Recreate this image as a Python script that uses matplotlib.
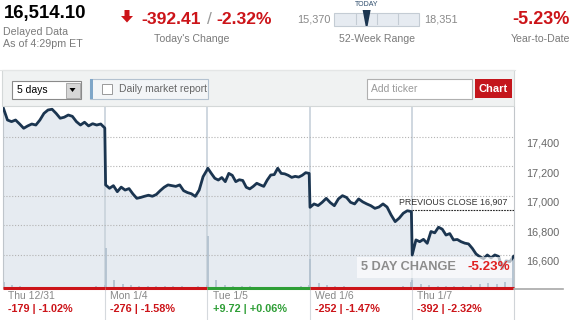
import matplotlib
matplotlib.use('Agg')
import matplotlib.pyplot as plt
import matplotlib.transforms as mtransforms
from matplotlib.patches import Rectangle, Polygon
import numpy as np

plt.rcParams['font.family'] = ['Liberation Sans', 'DejaVu Sans']

# ---------------- data ----------------
day_labels = ['Thu 12/31', 'Mon 1/4', 'Tue 1/5', 'Wed 1/6', 'Thu 1/7']
day_change = ['-179', '-276', '+9.72', '-252', '-392']
day_pct = ['-1.02%', '-1.58%', '+0.06%', '-1.47%', '-2.32%']
day_up = [False, False, True, False, False]

prices_d1 = [17595, 17515, 17504, 17515, 17488, 17459, 17475, 17488, 17481, 17515,
             17560, 17583, 17588, 17560, 17527, 17534, 17549, 17540, 17504, 17481,
             17500, 17475, 17490, 17481, 17488, 17461]
prices_d2 = [17075, 17052, 17070, 17029, 17060, 17040, 17050, 17014, 16984, 16990,
             16998, 17005, 16998, 17010, 17036, 17059, 17075, 17070, 17065, 17075,
             17036, 17023, 17015, 16997, 17040, 17131, 17176]
prices_d3 = [17188, 17153, 17120, 17108, 17125, 17097, 17153, 17140, 17097, 17110,
             17105, 17059, 17048, 17065, 17086, 17075, 17065, 17108, 17142, 17145,
             17188, 17153, 17150, 17140, 17126, 17133, 17128, 17140, 17158, 17153]
prices_d4 = [16923, 16946, 16935, 16957, 16984, 16955, 16934, 16980, 17002, 16990,
             16957, 16946, 16980, 16960, 16946, 16934, 16916, 16925, 16946, 16925,
             16871, 16826, 16850, 16883, 16900, 16894]
prices_d5 = [16600, 16702, 16690, 16706, 16679, 16759, 16750, 16788, 16775, 16735,
             16745, 16702, 16705, 16690, 16680, 16675, 16645, 16607, 16588, 16575,
             16600, 16580, 16600, 16590, 16509, 16560, 16555, 16590]
prices = [prices_d1, prices_d2, prices_d3, prices_d4, prices_d5]

volume_d1 = [6, 3, 2, 1, 1, 1, 1, 1, 1, 1, 1, 2, 3]
volume_d2 = [40, 8, 4, 3, 2, 2, 2, 2, 2, 2, 1, 2, 3]
volume_d3 = [52, 8, 3, 2, 2, 2, 1, 1, 1, 1, 1, 2, 3]
volume_d4 = [29, 5, 3, 2, 2, 1, 1, 1, 1, 1, 1, 2, 6]
volume_d5 = [8, 4, 3, 2, 2, 2, 2, 3, 4, 5, 4, 6, 30]
volumes = [volume_d1, volume_d2, volume_d3, volume_d4, volume_d5]
volume_axis_max = 182

prev_close = 16907
y_ticks = [16600, 16800, 17000, 17200, 17400]
y_tick_labels = ['16,600', '16,800', '17,000', '17,200', '17,400']
y_range = (16376, 17610)

last_price = 16514.10
today_change = '-392.41'
today_pct = '-2.32%'
week52_low = 15370
week52_high = 18351
ytd = '-5.23%'
five_day = '-5.23%'

RED = '#cc1419'
GREEN = '#2e9e36'
GRAY = '#7a7a7a'

# ---------------- figure ----------------
fig = plt.figure(figsize=(5.75, 3.2), dpi=100)
fig.patch.set_facecolor('white')

ax = fig.add_axes([3 / 575, 32 / 320, 511 / 575, 182 / 320], zorder=5)
ov = fig.add_axes([0, 0, 1, 1], zorder=10)
ov.set_xlim(0, 575)
ov.set_ylim(320, 0)
ov.axis('off')

# price line
X, Y = [], []
for d, p in enumerate(prices):
    n = len(p)
    xs = d + 0.004 + np.arange(n) / (n - 1) * 0.992
    X.extend(xs)
    Y.extend(p)
X = np.array(X)
Y = np.array(Y)

ax.fill_between(X, Y, y_range[0], color='#e6ebf1', lw=0, zorder=1)
for t in y_ticks:
    ax.axhline(t, color='#b3b3b3', lw=0.8, ls=(0, (1, 1.6)), zorder=2)
for d in range(1, 5):
    ax.axvline(d, color='#cbd4dd', lw=1.3, zorder=1.6)

xt = ax.get_xaxis_transform()
for d, v in enumerate(volumes):
    n = len(v)
    vx = d + 0.005 + np.arange(n) / (n - 1) * 0.99
    ax.vlines(vx, 0, np.array(v) / volume_axis_max, transform=xt,
              color='#b3c1cf', lw=1.3, zorder=2.2)

ax.plot(X, Y, color='#1b3550', lw=2.0, zorder=4, solid_joinstyle='round')

ax.set_xlim(0, 5)
ax.set_ylim(*y_range)
ax.set_xticks([])
ax.yaxis.tick_right()
ax.set_yticks(y_ticks, y_tick_labels)
ax.tick_params(axis='y', length=0, pad=9, labelsize=7.8, labelcolor='#666666')
off = mtransforms.ScaledTranslation(0, -6 / 100, fig.dpi_scale_trans)
for lbl in ax.get_yticklabels():
    lbl.set_transform(lbl.get_transform() + off)
for s in ['top', 'bottom']:
    ax.spines[s].set_visible(False)
ax.spines['left'].set_color('#bfc5cb')
ax.spines['right'].set_color('#c2c6ca')

# day colour bars and labels
for d in range(5):
    c = GREEN if day_up[d] else RED
    ax.plot([d, d + 1], [0, 0], transform=xt, color=c, lw=2.2, clip_on=False,
            zorder=6, solid_capstyle='butt')
    ax.text(d + 0.05, -0.045, day_labels[d], transform=xt, ha='left', va='center',
            fontsize=7.5, color='#888888')
    ax.text(d + 0.05, -0.118, f'{day_change[d]} | {day_pct[d]}', transform=xt,
            ha='left', va='center', fontsize=7.8, fontweight='bold', color=c)
    if d > 0:
        ax.plot([d, d], [-0.01, -0.175], transform=xt, color='#d5d9dd', lw=0.8,
                clip_on=False)

# previous close
ax.plot([4, 5], [prev_close, prev_close], color='#222222', lw=0.8,
        ls=(0, (1.5, 1)), zorder=5)
ax.text(4.94, prev_close + 22, f'PREVIOUS CLOSE {prev_close:,}', ha='right',
        va='bottom', fontsize=6.4, color='#333333', zorder=5)

# ---------------- overlay (header / toolbar) ----------------
ov.plot([0, 515], [69.5, 69.5], color='#e4e6e6', lw=0.8)
ov.add_patch(Rectangle((2, 70), 512, 36, fc='#f0f2f2', ec='#d4d8d8', lw=0.8))
ov.plot([514, 514], [288, 320], color='#d0d4d8', lw=0.8)
ov.plot([514, 563], [288.5, 288.5], color='#a8a8a8', lw=1.2)

# header
ov.text(4, 13.5, f'{last_price:,.2f}', ha='left', va='center', fontsize=13.4,
        fontweight='bold', color='black')
ov.text(3, 32, 'Delayed Data', ha='left', va='center', fontsize=7.7, color=GRAY)
ov.text(3, 44, 'As of 4:29pm ET', ha='left', va='center', fontsize=7.7, color=GRAY)
ov.add_patch(Polygon([(124.5, 10), (129.5, 10), (129.5, 16), (133, 16), (127, 22.5),
                      (121, 16), (124.5, 16)], closed=True, fc=RED, ec='none'))
ov.text(141, 19.5, today_change, ha='left', va='center', fontsize=12.6,
        fontweight='bold', color=RED)
ov.text(209, 19.5, '/', ha='center', va='center', fontsize=12.6, color='#9a9a9a')
ov.text(272, 19.5, today_pct, ha='right', va='center', fontsize=12.6,
        fontweight='bold', color=RED)
ov.text(192, 39, "Today's Change", ha='center', va='center', fontsize=7.6, color=GRAY)

bx0, bx1 = 334, 419
ov.add_patch(Rectangle((bx0, 12.5), bx1 - bx0, 13, fc='#e6ebf1', ec='#c4ccd4', lw=0.8))
for k in range(1, 4):
    xx = bx0 + (bx1 - bx0) * k / 4 + 0.5
    ov.plot([xx, xx], [14, 24], color='#c4ccd4', lw=0.8)
mx = bx0 + (bx1 - bx0) * (last_price - week52_low) / (week52_high - week52_low)
ov.add_patch(Polygon([(mx - 4, 10), (mx + 4, 10), (mx + 1, 26), (mx - 1, 26)],
                     closed=True, fc='#1b3550', ec='none'))
ov.text(mx, 4.5, 'TODAY', ha='center', va='center', fontsize=5, color='#2b4a6a')
ov.text(331, 19.5, f'{week52_low:,}', ha='right', va='center', fontsize=7.8, color='#888888')
ov.text(424, 19.5, f'{week52_high:,}', ha='left', va='center', fontsize=7.8, color='#888888')
ov.text(377, 38.5, '52-Week Range', ha='center', va='center', fontsize=7.6, color=GRAY)

ov.text(570, 19, ytd, ha='right', va='center', fontsize=13, fontweight='bold', color=RED)
ov.text(570, 39, 'Year-to-Date', ha='right', va='center', fontsize=7.6, color=GRAY)

# toolbar controls
ov.add_patch(Rectangle((12, 81), 69, 18, fc='white', ec='#8a8a8a', lw=0.8))
ov.add_patch(Rectangle((65.5, 82.5), 14, 15, fc='#d6d6d6', ec='#a0a0a0', lw=0.6))
ov.add_patch(Polygon([(69.5, 88), (75.5, 88), (72.5, 92)], closed=True, fc='black'))
ov.text(17, 90, '5 days', ha='left', va='center', fontsize=7.5, color='black')

ov.add_patch(Rectangle((90, 79), 118, 20, fc='#f3f5f7', ec='#b4c2d0', lw=0.8))
ov.add_patch(Rectangle((90, 79), 3, 20, fc='#7fa6c8', ec='none'))
ov.add_patch(Rectangle((102, 83.5), 10, 10, fc='white', ec='#9a9a9a', lw=0.7))
ov.text(119, 88.5, 'Daily market report', ha='left', va='center', fontsize=7.5,
        color='#666666')

ov.add_patch(Rectangle((367, 79), 105, 20, fc='white', ec='#b0b0b0', lw=0.8))
ov.text(371, 89.5, 'Add ticker', ha='left', va='center', fontsize=7.5, color='#999999')
ov.add_patch(Rectangle((475, 79), 37, 19, fc='#c4161c', ec='none'))
ov.text(493.5, 88.5, 'Chart', ha='center', va='center', fontsize=8, fontweight='bold',
        color='white')

# 5 day change box
ov.add_patch(Rectangle((357, 257), 155, 21, fc='white', alpha=0.65, ec='none'))
ov.text(361, 267.5, '5 DAY CHANGE', ha='left', va='center', fontsize=9.2,
        fontweight='bold', color='#8c8c8c')
ov.text(510, 267.5, five_day, ha='right', va='center', fontsize=9.6,
        fontweight='bold', color='#e02020')

fig.savefig('out.png', dpi=100, facecolor='white')
